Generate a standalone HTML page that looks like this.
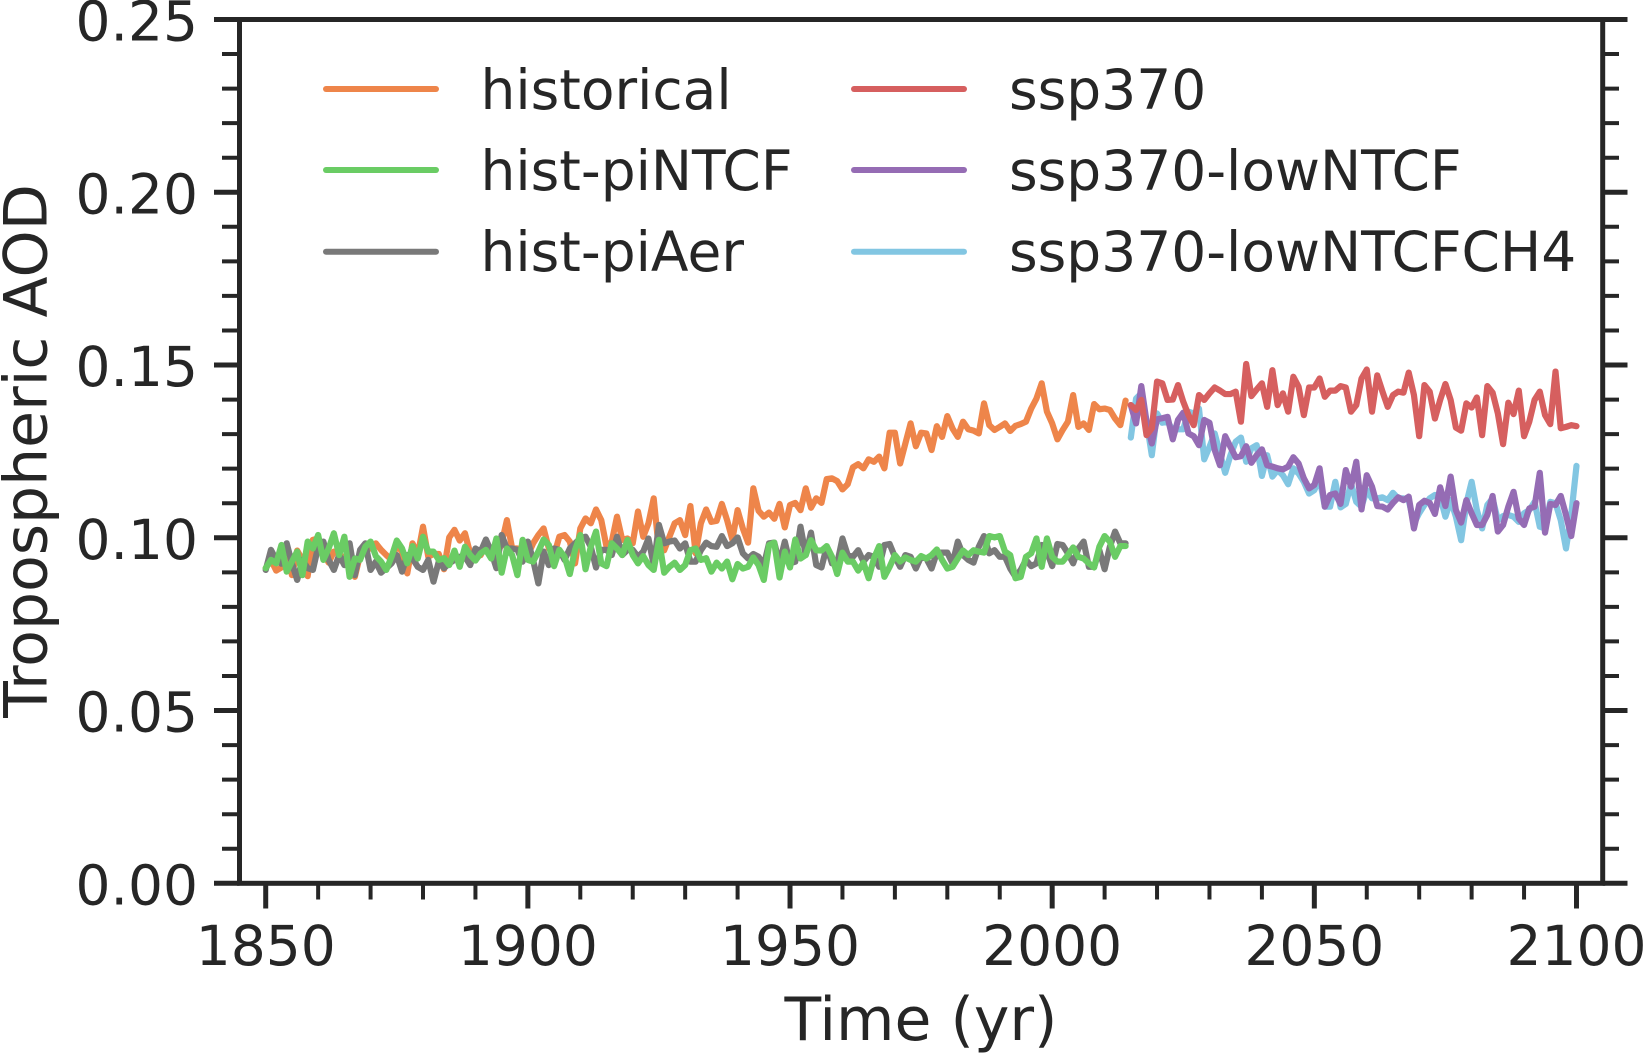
<!DOCTYPE html>
<html lang="en">
<head>
<meta charset="utf-8">
<title>Tropospheric AOD</title>
<style>
html,body{margin:0;padding:0;background:#fff;}
#chart{display:block;width:1643px;height:1053px;}
text{font-family:"DejaVu Sans","Liberation Sans",sans-serif;fill:#262626;}
</style>
</head>
<body>
<svg id="chart" xmlns="http://www.w3.org/2000/svg" width="1643" height="1053" viewBox="0 0 1643 1053">
<rect x="0" y="0" width="1643" height="1053" fill="#ffffff"/>
<g id="grid-ticks"></g>
<g id="series"></g>
<g id="frame"></g>
<g id="labels"></g>
<g id="legend"></g>
<text x="921" y="1040" font-size="60" text-anchor="middle">Time (yr)</text>
<text transform="translate(46.7 451) rotate(-90)" font-size="60" text-anchor="middle">Tropospheric AOD</text>
</svg>
<script>
const historicalStartYear = 1850;
const scenarioStartYear = 2015;
const xTickValues = [1850, 1900, 1950, 2000, 2050, 2100];
const xTickLabels = ['1850', '1900', '1950', '2000', '2050', '2100'];
const yTickValues = [0, 0.05, 0.10, 0.15, 0.20, 0.25];
const yTickLabels = ['0.00', '0.05', '0.10', '0.15', '0.20', '0.25'];
const historical = [
.0912,.0936,.0905,.0914,.0969,.0892,.0963,.0936,.0889,.0994,
.0998,.0955,.0928,.096,.0955,.0936,.0921,.0887,.095,.0979,
.0969,.0984,.0965,.095,.0936,.0979,.096,.0897,.0984,.095,
.1032,.0945,.0953,.0953,.0909,.1001,.1023,.0992,.1013,.0955,
.0953,.095,.0979,.0945,.0945,.0984,.1051,.0969,.0969,.094,
.095,.0984,.1008,.1027,.0969,.095,.1003,.1008,.0989,.0926,
.1027,.1056,.1042,.1082,.1051,.0974,.0989,.1061,.0994,.0998,
.0984,.1076,.1003,.1042,.1114,.0964,.0964,.1003,.1042,.1051,
.1008,.1092,.0955,.1042,.1082,.1046,.1049,.1098,.1051,.0995,
.108,.1027,.0986,.1143,.1078,.1061,.1073,.1055,.1098,.103,
.1095,.1101,.108,.1143,.1087,.1114,.1101,.117,.1172,.1164,
.114,.1155,.1204,.1213,.1201,.1227,.122,.1235,.1201,.1304,
.1304,.1215,.1273,.1331,.1265,.1304,.1302,.1254,.1323,.1292,
.1352,.1316,.1292,.1336,.1314,.131,.1302,.1389,.1326,.1312,
.1321,.1331,.1309,.1324,.1329,.1336,.1374,.1403,.1447,.1365,
.1331,.1285,.1312,.1336,.1413,.1321,.1331,.1312,.1387,.1372,
.1374,.137,.1345,.1326,.1397
];
const histPiAer = [
.0907,.0965,.0936,.0925,.0984,.0926,.0878,.0936,.0912,.0907,
.0974,.0989,.0936,.0907,.095,.0921,.0984,.0892,.0965,.0984,
.0907,.0931,.0899,.0912,.0926,.095,.0902,.095,.094,.0916,
.0907,.0936,.0873,.0931,.0912,.0926,.0936,.0945,.0945,.0921,
.0969,.096,.0995,.096,.0912,.1008,.0969,.0969,.0965,.0931,
.0989,.0936,.0868,.096,.0921,.0969,.0965,.0936,.0969,.0984,
.0998,.1003,.0974,.0914,.0965,.0965,.095,.1003,.095,.0965,
.0965,.0945,.096,.0998,.0921,.1037,.0984,.0989,.0992,.0969,
.0984,.0931,.0931,.0964,.0986,.0976,.0974,.1005,.0976,.0984,
.1001,.0955,.094,.0953,.0945,.0921,.0984,.0986,.0926,.0989,
.0926,.0931,.1032,.095,.1015,.0921,.0914,.0974,.0926,.0926,
.0998,.095,.0945,.0964,.0931,.095,.0945,.0916,.0979,.0982,
.0945,.0916,.095,.0945,.0911,.0945,.094,.0911,.0957,.0957,
.0957,.0926,.0989,.095,.0936,.0928,.0974,.1005,.0955,.0964,
.0945,.0945,.0911,.0887,.0907,.0936,.0918,.0926,.0979,.096,
.0918,.0982,.0979,.0955,.0926,.0969,.0989,.0916,.0916,.0964,
.0909,.0974,.1018,.0984,.0984
];
const histPiNTCF = [
.0912,.0936,.0926,.0979,.0902,.0931,.096,.0892,.0989,.0969,
.1008,.0936,.0969,.1013,.095,.1003,.0887,.094,.0936,.0974,
.0989,.0947,.0931,.0907,.0945,.0992,.0969,.0926,.0976,.094,
.1003,.096,.096,.0936,.0941,.0921,.0963,.0916,.0974,.095,
.0934,.0955,.0965,.094,.0998,.0899,.0969,.095,.0892,.0994,
.0936,.0931,.096,.0995,.0979,.0918,.0965,.0945,.0895,.0965,
.1008,.0909,.0974,.1018,.0926,.0918,.0984,.0969,.095,.0994,
.095,.0926,.0947,.0921,.0907,.0994,.0899,.0916,.0928,.0907,
.0921,.0964,.0969,.0936,.0941,.0902,.0928,.0911,.0931,.088,
.0924,.0911,.0916,.0943,.0921,.0878,.0979,.0986,.0885,.096,
.0914,.0995,.094,.095,.0993,.0964,.0963,.0976,.0945,.0895,
.0957,.0931,.0931,.0905,.0928,.0883,.094,.0976,.0887,.0916,
.095,.0931,.0943,.0936,.0931,.0947,.094,.095,.0966,.0936,
.0911,.0916,.094,.0963,.095,.0964,.096,.0957,.1005,.1001,
.1005,.096,.095,.0883,.0887,.0945,.0955,.0998,.0916,.0998,
.0945,.0931,.0931,.095,.0972,.0945,.094,.0926,.0914,.0974,
.1005,.0989,.0945,.0976,.0976
];
const ssp370 = [
.1384,.137,.1399,.1297,.1317,.1452,.1447,.1399,.14,.1442,
.1394,.1355,.1326,.1413,.1399,.1418,.1435,.1426,.1416,.1416,
.1423,.1336,.1503,.141,.1429,.1447,.1379,.1485,.1384,.1418,
.1365,.1466,.1437,.1355,.1435,.1435,.1461,.1408,.1426,.1426,
.1439,.1435,.1365,.1384,.1461,.1487,.1365,.147,.1423,.1379,
.1413,.1423,.142,.1478,.1413,.1294,.1442,.1423,.1345,.1399,
.1445,.1399,.1319,.131,.1389,.1377,.1406,.1297,.1439,.142,
.136,.1271,.1391,.1358,.1426,.1294,.1336,.1399,.1423,.1355,
.1329,.1481,.1317,.1321,.1326,.1323
];
const ssp370LowNTCF = [
.1384,.1331,.1439,.1336,.1273,.1343,.1346,.135,.1285,.1341,
.1362,.1302,.1294,.1268,.1341,.1333,.1254,.121,.1294,.1263,
.1233,.1236,.1265,.1217,.1239,.1256,.121,.1206,.1201,.1198,
.1206,.1233,.1215,.1172,.1143,.1153,.1201,.109,.1124,.1128,
.1098,.1196,.1148,.122,.1082,.1181,.1148,.1092,.109,.1082,
.1101,.1117,.1109,.1119,.1027,.1095,.1107,.1101,.1069,.1146,
.1092,.1177,.108,.1044,.1109,.1071,.1037,.1037,.1066,.1121,
.1018,.1037,.109,.1133,.1056,.1037,.1085,.109,.1188,.1015,
.1098,.1095,.1121,.1066,.1005,.11
];
const ssp370LowNTCFCH4 = [
.129,.1403,.1418,.1336,.1239,.136,.1333,.1336,.1312,.1314,
.1314,.1365,.136,.1374,.1227,.1263,.1302,.1244,.1188,.1239,
.1278,.129,.122,.1259,.1268,.1179,.1239,.1177,.1196,.1181,
.1155,.1201,.1186,.1162,.1128,.1138,.1172,.109,.109,.1162,
.1088,.1098,.1157,.1104,.109,.1138,.1114,.1114,.1117,.1109,
.113,.1114,.1114,.1109,.1042,.1071,.1095,.1114,.1124,.1119,
.1061,.1109,.1061,.0993,.11,.1162,.108,.1027,.1095,.1114,
.1051,.1063,.1066,.1061,.1046,.1071,.108,.1104,.1032,.1027,
.1104,.11,.1051,.0969,.1066,.1208
];

const SVGNS = 'http://www.w3.org/2000/svg';
const INK = '#262626';
const plot = {left: 239.5, right: 1602.7, top: 19.5, bottom: 883.3};
const xDomain = [1845, 2105];
const yDomain = [0, 0.25];
function xScale(year) {
  return plot.left + (year - xDomain[0]) / (xDomain[1] - xDomain[0]) * (plot.right - plot.left);
}
function yScale(value) {
  return plot.bottom - (value - yDomain[0]) / (yDomain[1] - yDomain[0]) * (plot.bottom - plot.top);
}
function make(tag, parent, attrs) {
  const el = document.createElementNS(SVGNS, tag);
  for (const key in attrs) el.setAttribute(key, attrs[key]);
  parent.appendChild(el);
  return el;
}
const tickGroup = document.getElementById('grid-ticks');
const frameGroup = document.getElementById('frame');
const labelGroup = document.getElementById('labels');
const seriesGroup = document.getElementById('series');
const legendGroup = document.getElementById('legend');

/* x ticks */
for (let year = xDomain[0] + 5; year <= xDomain[1] - 5; year += 10) {
  const isMajor = xTickValues.indexOf(year) >= 0;
  if (isMajor) continue;
  const t = make('line', tickGroup, {x1: xScale(year), x2: xScale(year), y1: plot.bottom, y2: 899.5, stroke: INK, 'stroke-width': 4});
  
  
}
xTickValues.forEach(function (year, i) {
  const t = make('line', tickGroup, {x1: xScale(year), x2: xScale(year), y1: plot.bottom, y2: 908.5, stroke: INK, 'stroke-width': 5});
  
  
  const lab = make('text', labelGroup, {x: xScale(year), y: 965, 'font-size': 55, 'text-anchor': 'middle'});
  lab.textContent = xTickLabels[i];
  
  
});

/* y ticks (both sides) */
for (let k = 0; k <= 25; k++) {
  if (k % 5 === 0) continue;
  const value = k / 100;
  const left = make('line', tickGroup, {x1: 222, x2: plot.left, y1: yScale(value), y2: yScale(value), stroke: INK, 'stroke-width': 4});
  
  
  const right = make('line', tickGroup, {x1: plot.right, x2: 1619, y1: yScale(value), y2: yScale(value), stroke: INK, 'stroke-width': 4});
  
  
}
yTickValues.forEach(function (value, i) {
  const left = make('line', tickGroup, {x1: 214, x2: plot.left, y1: yScale(value), y2: yScale(value), stroke: INK, 'stroke-width': 5});
  
  
  const right = make('line', tickGroup, {x1: plot.right, x2: 1627.5, y1: yScale(value), y2: yScale(value), stroke: INK, 'stroke-width': 5});
  
  
  const lab = make('text', labelGroup, {x: 198, y: yScale(value) + 21, 'font-size': 55, 'text-anchor': 'end'});
  lab.textContent = yTickLabels[i];
  
  
});

/* frame */
const frameRect = make('rect', frameGroup, {x: plot.left, y: plot.top, width: plot.right - plot.left, height: plot.bottom - plot.top, fill: 'none', stroke: INK, 'stroke-width': 5});



/* series */
function drawSeries(values, startYear, color, name) {
  const pts = values.map(function (v, i) {
    return xScale(startYear + i).toFixed(2) + ',' + yScale(v).toFixed(2);
  }).join(' ');
  const line = make('polyline', seriesGroup, {points: pts, fill: 'none', stroke: color, 'stroke-width': 6.2, 'stroke-linejoin': 'round', 'stroke-linecap': 'round'});
  
  
}
drawSeries(historical, historicalStartYear, '#ee854a', 'series-historical');
drawSeries(histPiAer, historicalStartYear, '#797979', 'series-hist-piaer');
drawSeries(histPiNTCF, historicalStartYear, '#6acc64', 'series-hist-pintcf');
drawSeries(ssp370LowNTCFCH4, scenarioStartYear, '#82c6e2', 'series-ssp370-lowntcfch4');
drawSeries(ssp370LowNTCF, scenarioStartYear, '#956cb4', 'series-ssp370-lowntcf');
drawSeries(ssp370, scenarioStartYear, '#d65f5f', 'series-ssp370');

/* legend */
const legendLabels = ['historical', 'hist-piNTCF', 'hist-piAer', 'ssp370', 'ssp370-lowNTCF', 'ssp370-lowNTCFCH4'];
const legendColors = ['#ee854a', '#6acc64', '#797979', '#d65f5f', '#956cb4', '#82c6e2'];
legendLabels.forEach(function (label, i) {
  const col = i < 3 ? 0 : 1;
  const row = i % 3;
  const x0 = col === 0 ? 326 : 854;
  const tx = col === 0 ? 480.5 : 1009;
  const ly = [89, 170, 251.7][row];
  const by = [109, 190, 271][row];
  const swatch = make('line', legendGroup, {x1: x0, x2: x0 + 110, y1: ly, y2: ly, stroke: legendColors[i], 'stroke-width': 6, 'stroke-linecap': 'round'});
  
  
  const text = make('text', legendGroup, {x: tx, y: by, 'font-size': 55});
  text.textContent = label;
  
  
});
</script>
</body>
</html>
